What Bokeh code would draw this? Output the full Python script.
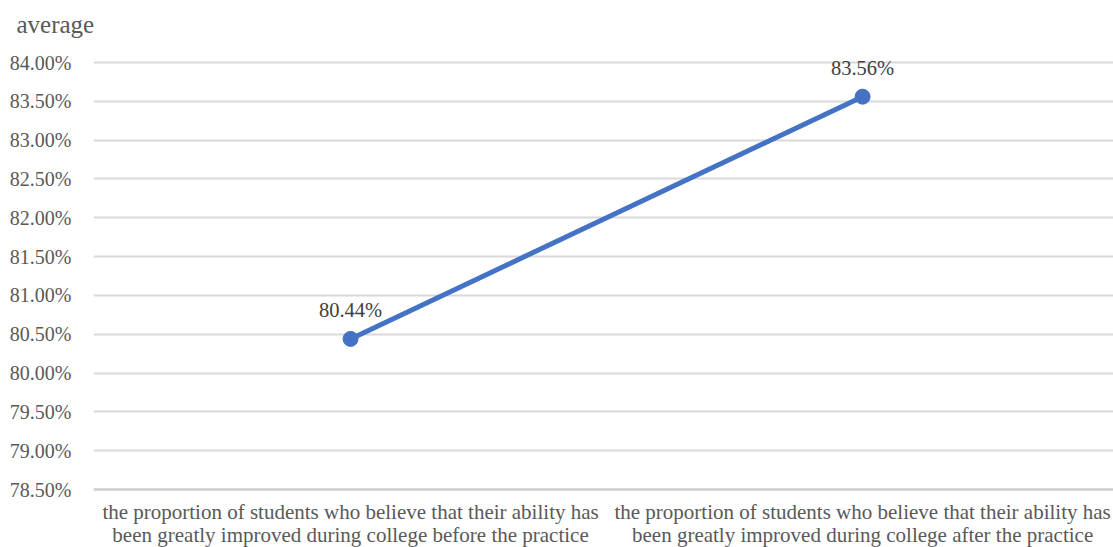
from bokeh.plotting import figure
from bokeh.models import ColumnDataSource, FixedTicker, Range1d, Span
from bokeh.core.properties import value
from bokeh.embed import file_html
from bokeh.resources import INLINE

categories = [
    "the proportion of students who believe that their ability has\nbeen greatly improved during college before the practice",
    "the proportion of students who believe that their ability has\nbeen greatly improved during college after the practice",
]
values = [80.44, 83.56]
y_ticks = [78.5, 79.0, 79.5, 80.0, 80.5, 81.0, 81.5, 82.0, 82.5, 83.0, 83.5, 84.0]
title_text = "average"

FONT = "Liberation Serif"
xs = list(range(len(categories)))
src = ColumnDataSource(dict(x=xs, y=values, lab=[f"{v:.2f}%" for v in values]))
line1 = ColumnDataSource(dict(x=xs, y=[y_ticks[0]] * len(xs), t=[c.split("\n")[0] for c in categories]))
line2 = ColumnDataSource(dict(x=xs, y=[y_ticks[0]] * len(xs), t=[c.split("\n")[1] for c in categories]))

# frame: 84% at y=62px, 78.5% at y=489px
ppu = (489 - 62) / (y_ticks[-1] - y_ticks[0])
top_border = 45
y_end = y_ticks[-1] + (62 - top_border) / ppu
y_start = y_ticks[0] - (547 - 489) / ppu

p = figure(width=1113, height=547, output_backend="svg", toolbar_location=None,
           x_range=Range1d(-0.502, 1.490), y_range=Range1d(y_start, y_end),
           x_axis_location=None,
           min_border_left=93, min_border_right=0, min_border_top=top_border, min_border_bottom=0)
p.outline_line_color = None
p.background_fill_color = "white"

p.title.text = title_text
p.title.text_font = FONT
p.title.text_font_size = "25px"
p.title.text_font_style = "normal"
p.title.text_color = "#595959"
p.title.offset = -77
p.title.standoff = 16

p.add_layout(Span(location=y_ticks[0], dimension="width", line_color="#d0d0d0", line_width=2.5))

p.line("x", "y", source=src, line_color="#4472C4", line_width=5)
p.scatter("x", "y", source=src, size=15, fill_color="#4472C4", line_color="#4472C4")
p.text("x", "y", text="lab", source=src, y_offset=-29, text_align="center",
       text_baseline="middle", text_font=value(FONT), text_font_size="20.5px", text_color="#404040")

for src_l, off in ((line1, 22), (line2, 45)):
    p.text("x", "y", text="t", source=src_l, y_offset=off, text_align="center",
           text_baseline="middle", text_font=value(FONT), text_font_size="21px", text_color="#595959")

p.yaxis.ticker = FixedTicker(ticks=y_ticks)
p.yaxis.major_label_overrides = {t: f"{t:.2f}%" for t in y_ticks}
p.yaxis.axis_line_color = None
p.yaxis.major_tick_line_color = None
p.yaxis.minor_tick_line_color = None
p.yaxis.major_label_standoff = 16
p.yaxis.major_label_text_font = FONT
p.yaxis.major_label_text_font_size = "20px"
p.yaxis.major_label_text_color = "#595959"

p.xgrid.grid_line_color = None
p.ygrid.grid_line_color = "#d9d9d9"
p.ygrid.grid_line_width = 2

open("out.html", "w").write(file_html(p, INLINE))
